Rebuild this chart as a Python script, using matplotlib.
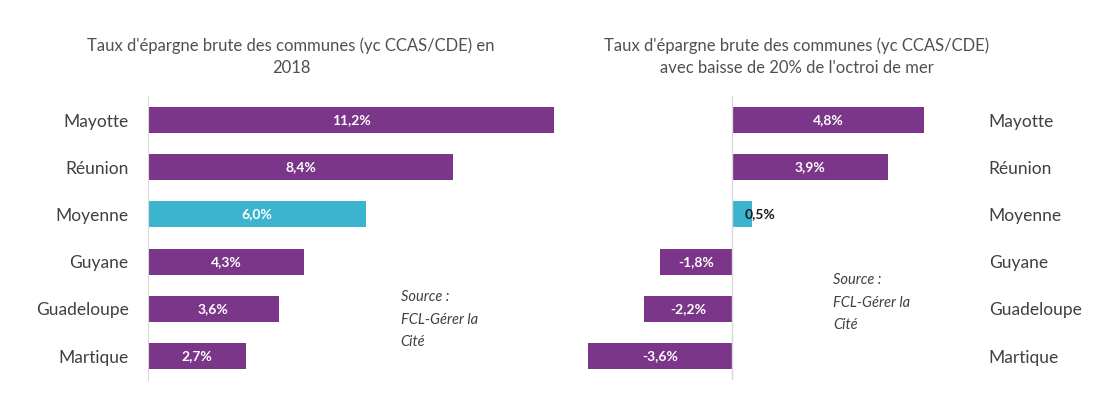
import matplotlib.pyplot as plt

plt.rcParams['font.family'] = ['Lato', 'DejaVu Sans']

# data
territoires = ["Mayotte", "Réunion", "Moyenne", "Guyane", "Guadeloupe", "Martique"]
taux_2018 = [11.2, 8.4, 6.0, 4.3, 3.6, 2.7]
taux_baisse = [4.8, 3.9, 0.5, -1.8, -2.2, -3.6]
labels_2018 = ["11,2%", "8,4%", "6,0%", "4,3%", "3,6%", "2,7%"]
labels_baisse = ["4,8%", "3,9%", "0,5%", "-1,8%", "-2,2%", "-3,6%"]

violet = "#7b3589"
cyan = "#3cb4d0"
colors = [cyan if t == "Moyenne" else violet for t in territoires]
ypos = list(range(len(territoires)))

fig = plt.figure(figsize=(11.08, 4.07), dpi=100)

# left panel
ax1 = fig.add_axes([148/1108, 1 - 379.6/407, 421/1108, 283.2/407])
ax1.barh(ypos, taux_2018, height=0.55, color=colors)
ax1.set_ylim(5.5, -0.5)
ax1.set_xlim(0, 11.6)
ax1.set_yticks(ypos)
ax1.set_yticklabels(territoires, fontsize=12.5, color="#404040")
ax1.tick_params(axis="y", length=0, pad=14)
ax1.set_xticks([])
for s in ["top", "right", "bottom"]:
    ax1.spines[s].set_visible(False)
ax1.spines["left"].set_color("#d9d9d9")
for y, v, lab in zip(ypos, taux_2018, labels_2018):
    ax1.text(v / 2, y, lab, ha="center", va="center", color="white",
             fontsize=10, fontweight="bold")
ax1.text(0.60, 0.315, "Source :\nFCL-Gérer la\nCité", transform=ax1.transAxes,
         fontsize=10.5, style="italic", color="#404040", va="top", linespacing=1.75)

# right panel
ax2 = fig.add_axes([584/1108, 1 - 379.6/407, 388/1108, 283.2/407])
ax2.barh(ypos, taux_baisse, height=0.55, color=colors)
ax2.set_ylim(5.5, -0.5)
ax2.set_xlim(-3.7, 6.0)
ax2.axvline(0, color="#d9d9d9", lw=1)
ax2.yaxis.tick_right()
ax2.set_yticks(ypos)
ax2.set_yticklabels(territoires, fontsize=12.5, color="#404040")
ax2.tick_params(axis="y", length=0, pad=12)
ax2.set_xticks([])
for s in ax2.spines.values():
    s.set_visible(False)
for y, v, lab in zip(ypos, taux_baisse, labels_baisse):
    if abs(v) < 1:
        ax2.text(v + 0.2, y, lab, ha="center", va="center", color="#1a1a1a",
                 fontsize=10, fontweight="bold")
    else:
        ax2.text(v / 2, y, lab, ha="center", va="center", color="white",
                 fontsize=10, fontweight="bold")
ax2.text(0.642, 0.375, "Source :\nFCL-Gérer la\nCité", transform=ax2.transAxes,
         fontsize=10.5, style="italic", color="#404040", va="top", linespacing=1.75)

# titles
fig.text(291/1108, 1 - 57/407, "Taux d'épargne brute des communes (yc CCAS/CDE) en\n2018",
         ha="center", va="center", fontsize=12, color="#505050", linespacing=1.45)
fig.text(797/1108, 1 - 57/407, "Taux d'épargne brute des communes (yc CCAS/CDE)\navec baisse de 20% de l'octroi de mer",
         ha="center", va="center", fontsize=12, color="#505050", linespacing=1.45)

fig.savefig("out.png", dpi=100)
